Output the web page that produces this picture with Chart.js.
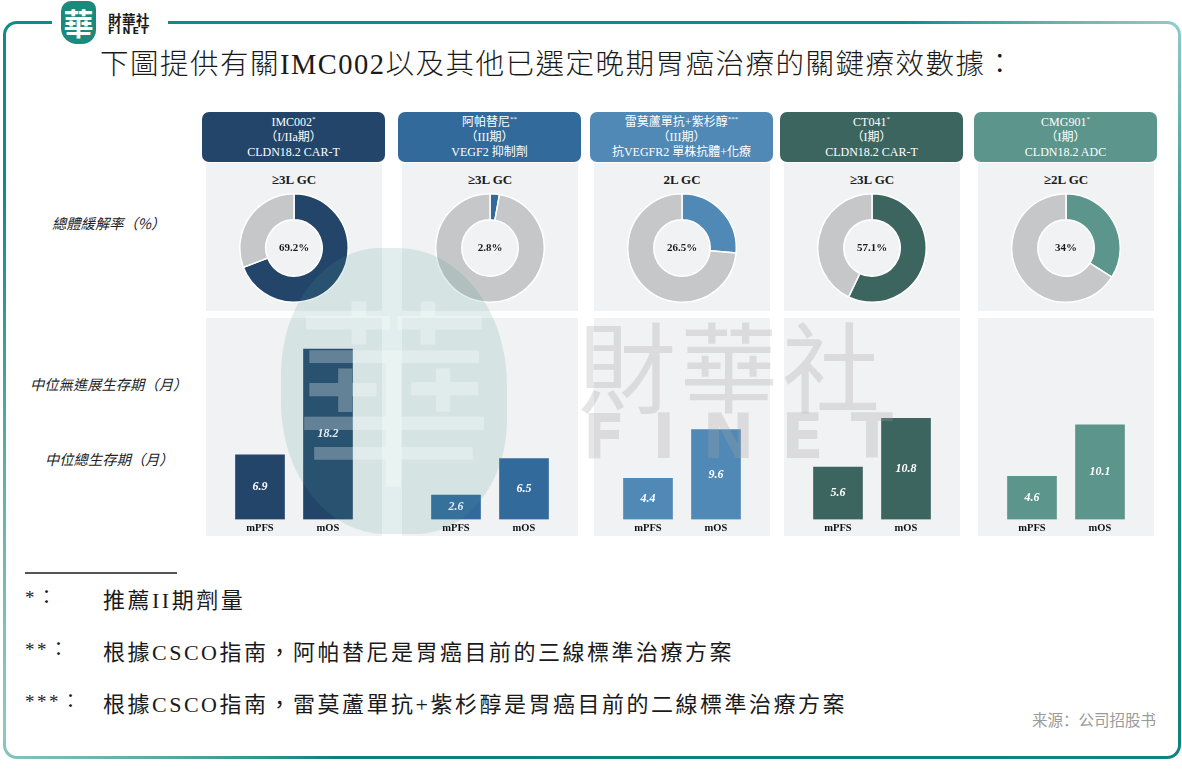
<!DOCTYPE html>
<html>
<head>
<meta charset="utf-8">
<script src="https://cdn.jsdelivr.net/npm/chart.js@4.4.1/dist/chart.umd.min.js"></script>
<style>
  body { margin: 0; width: 1182px; height: 781px; background: #fff; position: relative; overflow: hidden;
         font-family: "Liberation Serif", "Noto Sans CJK TC", serif; color: #1a1a1a; }
  .abs { position: absolute; }
  .frame { left: 3px; top: 21px; width: 1178px; height: 738px; border-radius: 14px;
    background: conic-gradient(from 0deg, #0d8b85 0deg, #0d8b85 40deg, #90cbc6 58deg, #2a9690 75deg, #0e847e 120deg,
      #0e807a 215deg, #8ec8c3 240deg, #5fb0aa 262deg, #0d8b85 290deg, #0d8b85 360deg); }
  .frame-in { left: 3px; top: 3px; right: 3px; bottom: 3px; background: #fff; border-radius: 11px; }
  .logo-bg { left: 52px; top: 0; width: 116px; height: 46px; background: #fff; }
  .logo-mark { left: 61px; top: 1px; width: 35px; height: 43px; border-radius: 10px 8px 14px 16px; background: #1b8a7c;
    color: #fff; font: bold 30px "Noto Sans CJK TC"; line-height: 42px; text-align: center; }
  .logo-cn { left: 108px; top: 9px; font: bold 13.5px "Noto Sans CJK TC"; letter-spacing: 0.5px; }
  .logo-en { left: 108px; top: 25px; font: bold 9.5px "DejaVu Sans"; letter-spacing: 2.2px; }
  .title { left: 100px; top: 41px; font-size: 28.5px; font-weight: 300; letter-spacing: 1.5px; white-space: nowrap; }
  .head { width: 183px; height: 50px; border-radius: 7px; color: #fff; text-align: center; font-size: 12px;
    line-height: 15px; padding-top: 3px; box-sizing: border-box; white-space: nowrap; }
  .head sup { font-size: 7px; vertical-align: 5px; line-height: 0; }
  .panel { width: 176px; background: #f1f2f4; }
  .line-t { width: 176px; text-align: center; top: 9px; font-weight: bold; font-size: 13px; }
  .rowlab { font-family: "Noto Sans CJK TC"; font-style: italic; font-size: 14.3px; color: #222; white-space: nowrap; }
  .note { font-size: 22px; white-space: nowrap; letter-spacing: 2.5px; }
  .src { left: 1032px; top: 708px; font: 15.5px "Noto Sans CJK SC"; color: #9a9a9a; }
  .wm { pointer-events: none; z-index: 10; }
</style>
</head>
<body>
<div class="abs frame"><div class="abs frame-in"></div></div>
<div class="abs logo-bg"></div>
<div class="abs logo-mark">華</div>
<div class="abs logo-cn">財華社</div>
<div class="abs logo-en">FINET</div>
<div class="abs title">下圖提供有關IMC002以及其他已選定晚期胃癌治療的關鍵療效數據：</div>

<div class="abs rowlab" style="left:52px;top:212px">總體緩解率（%）</div>
<div class="abs rowlab" style="left:30px;top:373px">中位無進展生存期（月）</div>
<div class="abs rowlab" style="left:45px;top:448px">中位總生存期（月）</div>

<div class="abs" style="left:25px;top:572px;width:152px;height:2px;background:#555"></div>
<div id="notes"></div>
<div class="abs src">来源：公司招股书</div>

<div id="cols"></div>

<!-- watermark -->
<div class="abs wm" style="left:281px;top:248px;width:226px;height:286px;border-radius:44% 48% 40% 46%;background:rgba(70,150,145,0.16)"></div>
<div class="abs wm" style="left:283px;top:238px;width:222px;font:200px 'Noto Sans CJK TC';line-height:290px;text-align:center;color:rgba(255,255,255,0.28)">華</div>
<div class="abs wm" style="left:578px;top:312px;font:98px 'Noto Sans CJK TC';line-height:100px;color:rgba(160,160,160,0.28);letter-spacing:4px">財華社</div>
<div class="abs wm" style="left:583px;top:404px;font:bold 62px 'DejaVu Sans';line-height:66px;color:rgba(160,160,160,0.28);letter-spacing:27px">FINET</div>

<script>
const drugs = ['IMC002', '阿帕替尼', '雷莫蘆單抗+紫杉醇', 'CT041', 'CMG901'];
const marks = ['*', '**', '***', '*', '*'];
const phases = ['（I/IIa期）', '（III期）', '（III期）', '（I期）', '（I期）'];
const targets = ['CLDN18.2 CAR-T', 'VEGF2 抑制劑', '抗VEGFR2 單株抗體+化療', 'CLDN18.2 CAR-T', 'CLDN18.2 ADC'];
const lines = ['≥3L GC', '≥3L GC', '2L GC', '≥3L GC', '≥2L GC'];
const orr = [69.2, 2.8, 26.5, 57.1, 34];
const orrText = ['69.2%', '2.8%', '26.5%', '57.1%', '34%'];
const barLabels = ['mPFS', 'mOS'];
const mPFS = [6.9, 2.6, 4.4, 5.6, 4.6];
const mOS = [18.2, 6.5, 9.6, 10.8, 10.1];
const noteMarks = ['*：', '**：', '***：'];
const noteTexts = ['推薦II期劑量', '根據CSCO指南，阿帕替尼是胃癌目前的三線標準治療方案', '根據CSCO指南，雷莫蘆單抗+紫杉醇是胃癌目前的二線標準治療方案'];

const colors = ['#24456a', '#336a9c', '#5088b6', '#3d6560', '#5b958c'];
const restColor = '#c6c7c9';
const colX = [202, 398, 590, 780, 974];

Chart.defaults.font.family = '"Liberation Serif", "Noto Sans CJK TC", serif';

// footnotes
const notes = document.getElementById('notes');
noteMarks.forEach((m, i) => {
  const y = 582 + i * 52;
  notes.insertAdjacentHTML('beforeend',
    `<div class="abs note" style="left:25px;top:${y}px;font-size:19px">${m}</div>` +
    `<div class="abs note" style="left:103px;top:${y}px">${noteTexts[i]}</div>`);
});

const centerText = {
  id: 'centerText',
  afterDraw(chart, args, opts) {
    const { ctx, chartArea } = chart;
    ctx.save();
    ctx.font = 'bold 11px "Liberation Serif"';
    ctx.fillStyle = '#1a1a1a';
    ctx.textAlign = 'center';
    ctx.textBaseline = 'middle';
    ctx.fillText(opts.text, (chartArea.left + chartArea.right) / 2, (chartArea.top + chartArea.bottom) / 2);
    ctx.restore();
  }
};

const barValues = {
  id: 'barValues',
  afterDatasetsDraw(chart) {
    const { ctx } = chart;
    const meta = chart.getDatasetMeta(0);
    ctx.save();
    ctx.font = 'italic bold 12px "Liberation Serif"';
    ctx.fillStyle = '#fff';
    ctx.textAlign = 'center';
    ctx.textBaseline = 'middle';
    meta.data.forEach((bar, j) => {
      ctx.fillText(String(chart.data.datasets[0].data[j]), bar.x, (bar.y + bar.base) / 2);
    });
    ctx.restore();
  }
};

const cols = document.getElementById('cols');
drugs.forEach((name, i) => {
  const x = colX[i];
  const head = document.createElement('div');
  head.className = 'abs head';
  head.style.left = x + 'px';
  head.style.top = '112px';
  head.style.background = colors[i];
  head.innerHTML = `${name}<sup>${marks[i]}</sup><br>${phases[i]}<br>${targets[i]}`;
  cols.appendChild(head);

  const p1 = document.createElement('div');
  p1.className = 'abs panel';
  p1.style.cssText = `left:${x + 4}px;top:163px;height:148px`;
  p1.innerHTML = `<div class="abs line-t">${lines[i]}</div>`;
  const c1 = document.createElement('canvas');
  c1.width = 110; c1.height = 110;
  c1.style.cssText = 'position:absolute;left:33px;top:30px';
  p1.appendChild(c1);
  cols.appendChild(p1);

  new Chart(c1, {
    type: 'doughnut',
    data: {
      labels: ['ORR', ''],
      datasets: [{
        data: [orr[i], 100 - orr[i]],
        backgroundColor: [colors[i], restColor],
        borderColor: '#ffffff',
        borderWidth: 1.5
      }]
    },
    options: {
      responsive: false,
      animation: false,
      cutout: '52%',
      plugins: { legend: { display: false }, tooltip: { enabled: false }, centerText: { text: orrText[i] } }
    },
    plugins: [centerText]
  });

  const p2 = document.createElement('div');
  p2.className = 'abs panel';
  p2.style.cssText = `left:${x + 4}px;top:318px;height:218px`;
  const c2 = document.createElement('canvas');
  c2.width = 176; c2.height = 218;
  c2.style.cssText = 'position:absolute;left:0;top:4px';
  p2.appendChild(c2);
  cols.appendChild(p2);

  new Chart(c2, {
    type: 'bar',
    data: {
      labels: barLabels,
      datasets: [{ data: [mPFS[i], mOS[i]], backgroundColor: colors[i], barThickness: 49 }]
    },
    options: {
      responsive: false,
      animation: false,
      layout: { padding: { left: 20, right: 20, top: 0, bottom: 2 } },
      plugins: { legend: { display: false }, tooltip: { enabled: false } },
      scales: {
        x: {
          grid: { display: false, drawTicks: false },
          border: { display: false },
          ticks: { color: '#111', padding: 3, font: { size: 10.5, weight: 'bold' } }
        },
        y: { display: false, min: 0, max: 21.1 }
      }
    },
    plugins: [barValues]
  });
});
</script>
</body>
</html>
